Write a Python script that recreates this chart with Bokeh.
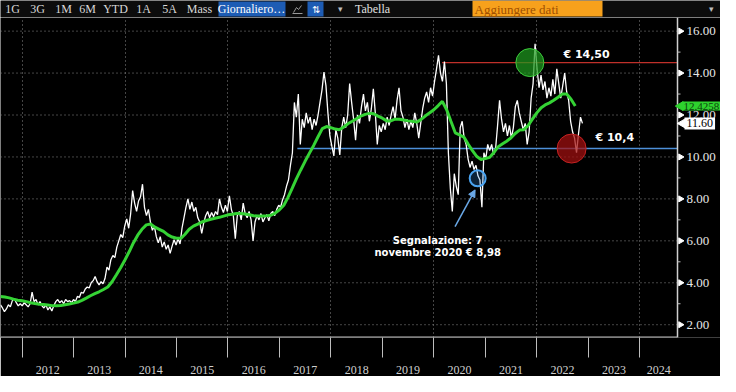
import pandas as pd
from bokeh.plotting import figure
from bokeh.models import (Range1d, FixedTicker, Label, Arrow, NormalHead,
                          CustomJSTickFormatter)
from bokeh.layouts import column
from bokeh.embed import file_html
from bokeh.resources import INLINE
from bokeh.core.properties import value

# ---------------- data ----------------
PRICE_START = "2011-08-01"          # fortnightly closes (EUR)
PRICE = [
    2.95, 2.80, 2.62, 2.75, 2.95, 2.85, 3.15, 3.25, 3.05, 2.90,
    3.00, 2.90, 3.05, 2.95, 2.85, 3.00, 3.55, 3.10, 3.20, 2.95,
    3.10, 2.90, 2.80, 2.95, 2.70, 2.85, 2.65, 2.90, 3.10, 3.20,
    3.05, 3.15, 3.00, 3.20, 3.10, 3.15, 3.05, 3.20, 3.10, 3.35,
    3.30, 3.55, 3.50, 3.70, 3.80, 3.75, 4.00, 4.10, 4.30, 4.05,
    3.90, 4.05, 3.95, 4.20, 4.75, 4.60, 5.10, 5.30, 5.20, 5.70,
    6.00, 6.30, 6.15, 6.70, 7.05, 6.60, 7.30, 8.40, 7.80, 7.40,
    7.90, 8.10, 8.70, 7.60, 7.20, 7.50, 6.90, 6.50, 6.70, 6.20,
    5.90, 6.20, 5.70, 5.95, 5.60, 5.80, 5.40, 5.75, 6.05, 5.80,
    6.10, 5.85, 6.60, 7.10, 7.60, 8.00, 7.50, 7.85, 7.40, 7.60,
    7.10, 6.90, 6.35, 6.85, 7.20, 7.40, 7.10, 7.35, 7.15, 7.40,
    7.25, 8.00, 7.60, 7.35, 7.70, 7.40, 8.15, 7.50, 7.20, 6.10,
    7.20, 7.40, 7.00, 7.80, 7.30, 7.10, 7.40, 7.00, 6.00, 6.90,
    7.20, 7.00, 7.30, 6.90, 7.10, 7.25, 6.95, 7.30, 7.40, 7.20,
    7.50, 7.70, 7.60, 7.95, 8.20, 8.60, 8.90, 9.60, 10.20, 12.60,
    11.90, 13.00, 10.60, 11.80, 11.40, 12.10, 11.60, 11.90, 11.30, 11.80,
    11.50, 12.00, 12.60, 13.20, 14.05, 13.40, 12.10, 11.00, 10.50, 10.05,
    11.30, 10.90, 10.10, 11.40, 11.90, 11.40, 12.00, 13.50, 12.60, 11.80,
    10.80, 12.00, 11.60, 12.40, 13.00, 12.20, 12.60, 11.70, 12.30, 13.25,
    12.10, 10.60, 11.50, 11.20, 11.60, 11.30, 11.90, 11.50, 12.00, 12.40,
    11.80, 12.70, 13.30, 12.20, 11.90, 11.40, 11.80, 11.30, 11.70, 11.40,
    12.10, 11.60, 10.90, 11.60, 12.30, 12.80, 13.10, 12.60, 13.30, 12.90,
    13.60, 14.20, 14.85, 14.00, 13.60, 14.55, 13.50, 10.20, 8.50, 7.40,
    9.20, 8.60, 8.20, 11.40, 11.70, 10.90, 10.60, 9.90, 9.50, 9.80,
    9.40, 9.60, 9.10, 8.90, 7.60, 10.20, 9.90, 10.60, 10.30, 10.60,
    10.10, 10.40, 11.50, 12.70, 11.80, 11.20, 11.60, 11.00, 11.50, 10.90,
    11.40, 12.40, 12.70, 12.10, 11.70, 11.30, 11.60, 10.60, 11.20, 12.80,
    13.50, 15.40, 14.20, 13.30, 13.90, 13.20, 13.60, 12.80, 13.30, 12.90,
    13.70, 13.00, 14.20, 13.50, 12.80, 13.40, 14.00, 13.10, 12.70, 11.70,
    11.20, 10.90, 10.20, 11.10, 11.90, 11.60,
]
MA_START = "2011-08-01"             # monthly moving average
MA = [
    3.35, 3.32, 3.28, 3.22, 3.17, 3.14, 3.10, 3.05, 3.01, 2.98,
    2.96, 2.94, 2.91, 2.90, 2.92, 2.95, 2.99, 3.03, 3.08, 3.16,
    3.27, 3.38, 3.48, 3.57, 3.68, 3.80, 4.05, 4.38, 4.72, 5.10,
    5.50, 5.90, 6.27, 6.55, 6.76, 6.80, 6.65, 6.55, 6.45, 6.28,
    6.18, 6.12, 6.12, 6.30, 6.55, 6.70, 6.80, 6.90, 6.97, 7.03,
    7.08, 7.12, 7.18, 7.24, 7.27, 7.30, 7.30, 7.28, 7.24, 7.20,
    7.18, 7.18, 7.19, 7.22, 7.32, 7.48, 7.70, 8.05, 8.50, 8.95,
    9.38, 9.78, 10.17, 10.55, 10.95, 11.35, 11.45, 11.40, 11.33, 11.30,
    11.42, 11.58, 11.70, 11.82, 11.95, 12.03, 12.08, 12.06, 11.95, 11.85,
    11.72, 11.72, 11.80, 11.80, 11.76, 11.72, 11.70, 11.66, 11.78, 11.95,
    12.10, 12.25, 12.45, 12.65, 12.25, 11.70, 11.15, 11.05, 10.95, 10.60,
    10.30, 10.02, 9.88, 9.93, 9.98, 10.20, 10.48, 10.62, 10.75, 10.90,
    11.12, 11.28, 11.30, 11.50, 11.80, 12.10, 12.35, 12.48, 12.58, 12.70,
    12.85, 13.00, 13.00, 12.75, 12.4258,
]
YEARS = list(range(2012, 2025))
GRID_YEARS = [2012, 2014, 2016, 2018, 2020, 2022, 2024]
Y_TICKS = [2, 4, 6, 8, 10, 12, 14, 16]
Y_MINOR = [3, 5, 7, 9, 11, 13, 15]
LEVEL_HIGH, LEVEL_HIGH_FROM = 14.50, "2020-02-28"
LEVEL_LOW, LEVEL_LOW_FROM = 10.40, "2017-05-08"
HIGH_PT = ("2021-11-13", 14.50)
LOW_PT = ("2022-09-05", 10.40)
SIGNAL_PT = ("2020-11-07", 8.98)
X_START, X_END = "2011-08-01", "2024-09-25"
Y_MIN, Y_MAX = 1.39, 16.65
TOOLBAR = ["1G", "3G", "1M", "6M", "YTD", "1A", "5A", "Mass"]


def yr(d):
    d = pd.to_datetime(d)
    return d.year + (d.dayofyear - 1) / 365.25


px = list(yr(pd.date_range(PRICE_START, periods=len(PRICE), freq="14D")))
mx = list(yr(pd.date_range(MA_START, periods=len(MA), freq="MS")))
x0, x1 = yr(X_START), yr(X_END)

W = 720
PLOT_W = 677                      # width of the price area, axis strip to its right
DX = (x1 - x0) / PLOT_W           # data units per screen pixel
x_full = x0 + DX * W

NARROW_F = "Liberation Sans Narrow"
NARROW = value(NARROW_F)
BOLD_F = "DejaVu Sans"

# ---------------- toolbar ----------------
tb = figure(width=W, height=17, x_range=Range1d(0, W), y_range=Range1d(0, 17),
            output_backend="svg", toolbar_location=None, x_axis_location=None,
            y_axis_location=None, background_fill_color="#0c0c0c",
            border_fill_color="#0c0c0c", min_border=0)
tb.outline_line_color = None
tb.grid.visible = False
tb_x = [12, 37, 63, 87, 115, 143, 169, 199]
tb.text(x=tb_x, y=[8.5] * len(TOOLBAR), text=TOOLBAR, text_color="#d8d8d8",
        text_font=NARROW, text_font_size="12px", text_align="center",
        text_baseline="middle")
tb.quad(left=[218, 307], right=[285, 323], bottom=[1, 1], top=[16, 16],
        fill_color="#1d5cb4", line_color=None)
tb.text(x=[251], y=[8.5], text=["Giornaliero…"], text_color="white",
        text_font=NARROW, text_font_size="12px", text_align="center",
        text_baseline="middle")
tb.line(x=[293, 296, 298, 301], y=[5, 10, 8, 12], line_color="#9a9a9a", line_width=1)
tb.line(x=[292, 302], y=[4, 4], line_color="#9a9a9a", line_width=1)
tb.text(x=[315], y=[8.5], text=["⇅"], text_color="white", text_font_size="10px",
        text_align="center", text_baseline="middle")
tb.text(x=[340, 711], y=[8.5, 8.5], text=["▾", "▾"], text_color="#bdbdbd",
        text_font_size="9px", text_align="center", text_baseline="middle")
tb.text(x=[372], y=[8.5], text=["Tabella"], text_color="#e0e0e0",
        text_font=NARROW, text_font_size="12px", text_align="center",
        text_baseline="middle")
tb.quad(left=[472], right=[602], bottom=[1], top=[17], fill_color="#f7a11c",
        line_color=None)
tb.text(x=[474], y=[8.5], text=["Aggiungere dati"], text_color="#a04f00",
        text_font=NARROW, text_font_size="13px", text_align="left",
        text_baseline="middle")

# ---------------- main chart ----------------
p = figure(width=W, height=359, x_range=Range1d(x0, x_full), y_range=Range1d(Y_MIN, Y_MAX),
           output_backend="svg", toolbar_location=None, y_axis_location=None,
           background_fill_color="black", border_fill_color="black",
           min_border_left=0, min_border_right=0, min_border_top=0,
           min_border_bottom=20)
p.outline_line_color = None

xa = p.xaxis[0]
xa.ticker = FixedTicker(ticks=[y + 0.5 for y in YEARS[:-1]] + [YEARS[-1] + 0.37],
                        minor_ticks=YEARS)
xa.formatter = CustomJSTickFormatter(code="return String(Math.floor(tick));")
xa.major_tick_line_color = None
xa.major_tick_out = 0
xa.minor_tick_out = 20
xa.minor_tick_in = 0
xa.minor_tick_line_color = "#bdbdbd"
xa.axis_line_color = None
xa.major_label_text_color = "#cfcfcf"
xa.major_label_text_font = NARROW_F
xa.major_label_text_font_size = "12px"
xa.major_label_standoff = 8

p.xgrid.ticker = FixedTicker(ticks=GRID_YEARS)
p.xgrid.grid_line_color = "#8a8a8a"
p.xgrid.grid_line_dash = "1 3"
p.ygrid.visible = False

n = len(Y_TICKS)
# horizontal grid, stopping at the price axis
p.segment(x0=[x0] * n, y0=Y_TICKS, x1=[x1] * n, y1=Y_TICKS,
          line_color="#8a8a8a", line_dash="1 3", line_width=1)

# support / resistance levels
p.segment(x0=[yr(LEVEL_HIGH_FROM)], y0=[LEVEL_HIGH], x1=[x1], y1=[LEVEL_HIGH],
          line_color="#c0302a", line_width=1.2)
p.segment(x0=[yr(LEVEL_LOW_FROM)], y0=[LEVEL_LOW], x1=[x1], y1=[LEVEL_LOW],
          line_color="#4d8fd8", line_width=1.6)

p.line(px, PRICE, line_color="white", line_width=1.3)
p.line(mx, MA, line_color="#35d335", line_width=3)

p.scatter([yr(HIGH_PT[0])], [HIGH_PT[1]], size=28, fill_color="#1e9a1e",
          fill_alpha=0.72, line_color="#3ccc3c", line_width=1)
p.scatter([yr(LOW_PT[0])], [LOW_PT[1]], size=29, fill_color="#a30f0f",
          fill_alpha=0.72, line_color="#c42222", line_width=1)
sx, sy = yr(SIGNAL_PT[0]), SIGNAL_PT[1]
p.scatter([sx], [sy], size=16, fill_color="#2f86e0", fill_alpha=0.25,
          line_color="#4aa3f0", line_width=2)

p.add_layout(Arrow(end=NormalHead(size=7, fill_color="#6aa8e6", line_color="#6aa8e6"),
                   x_start=sx - 0.44, y_start=sy - 2.3, x_end=sx - 0.05, y_end=sy - 0.55,
                   line_color="#6aa8e6", line_width=1.5))

lab = dict(text_color="white", text_font=BOLD_F, text_font_style="bold",
           text_align="center", text_baseline="middle")
p.add_layout(Label(x=sx, y=sy, x_offset=-40, y_offset=-62, text="Segnalazione: 7",
                   text_font_size="10px", **lab))
p.add_layout(Label(x=sx, y=sy, x_offset=-40, y_offset=-74,
                   text="novembre 2020 € 8,98", text_font_size="10px", **lab))
p.add_layout(Label(x=yr("2022-12-20"), y=LEVEL_HIGH, y_offset=8,
                   text="€ 14,50", text_font_size="11px", **lab))
p.add_layout(Label(x=yr("2023-07-08"), y=LEVEL_LOW, y_offset=11,
                   text="€ 10,4", text_font_size="11px", **lab))

# ---- price axis strip (right) and bottom frame line ----
p.segment(x0=[x0], y0=[Y_MIN], x1=[x1], y1=[Y_MIN], line_color="#bdbdbd", line_width=2)
p.segment(x0=[x1], y0=[Y_MIN], x1=[x1], y1=[Y_MAX], line_color="#cfcfcf", line_width=1.5)
m = len(Y_MINOR)
p.segment(x0=[x1] * m, y0=Y_MINOR, x1=[x1 + 3 * DX] * m, y1=Y_MINOR,
          line_color="#bdbdbd", line_width=1)
p.scatter([x1 + 3 * DX] * n, Y_TICKS, marker="triangle", angle=-1.5708, size=6,
          fill_color="white", line_color="white")
p.text([x1] * n, Y_TICKS, text=[f"{v:.2f}" for v in Y_TICKS], x_offset=9,
       text_color="#e6e6e6", text_font=NARROW, text_font_size="13px",
       text_align="left", text_baseline="middle")

# last value tags
p.scatter([x1 + 3 * DX], [MA[-1]], marker="triangle", angle=1.5708, size=9,
          fill_color="#2ed12e", line_color="#2ed12e")
p.add_layout(Label(x=x1 + 5 * DX, y=MA[-1], text=f"{MA[-1]:.4f}",
                   text_color="#0d3d0d", text_font=NARROW_F, text_font_size="11px",
                   text_baseline="middle", background_fill_color="#2ed12e",
                   padding=1))
p.scatter([x1 + 5 * DX], [PRICE[-1]], marker="triangle", angle=1.5708, size=9,
          fill_color="white", line_color="white")
p.add_layout(Label(x=x1 + 7 * DX, y=PRICE[-1], text=f"{PRICE[-1]:.2f}",
                   text_color="black", text_font=NARROW_F, text_font_size="12px",
                   text_baseline="middle", background_fill_color="white",
                   padding=2))

layout = column(tb, p, spacing=0)
open("out.html", "w").write(file_html(layout, INLINE))
